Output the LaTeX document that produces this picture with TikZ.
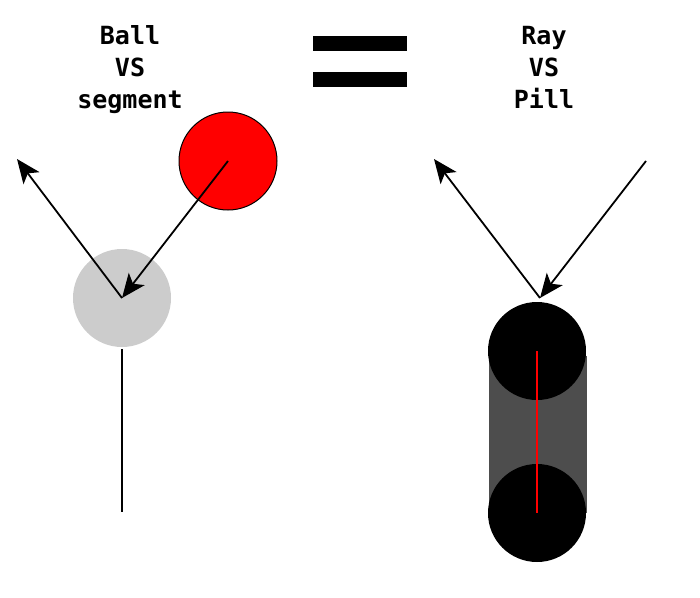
\documentclass[tikz,border=0pt]{standalone}
\usepackage{fontspec}
\setmonofont{DejaVu Sans Mono}
\usetikzlibrary{arrows.meta}
\definecolor{ballgray}{HTML}{CCCCCC}
\definecolor{pillgray}{HTML}{4D4D4D}

\begin{document}
\begin{tikzpicture}[x=1pt, y=-1pt,
  title/.style = {align=center, inner sep=0pt, font=\ttfamily\bfseries\fontsize{25}{32}\selectfont},
  ball/.style = {shape=circle, minimum size=98pt, inner sep=0pt},
  ray/.style = {line width=1.8pt, -{Stealth[length=24pt, width=20pt, inset=6pt]}}]
  \useasboundingbox (0,0) rectangle (700,597);
  \node[title] (balltitle) at (130,70) {Ball\\VS\\segment};
  \node[title] (raytitle) at (544,67) {Ray\\VS\\Pill};
  \fill (313,36) rectangle (407,51);
  \fill (313,72) rectangle (407,87);
  \node[ball, fill=ballgray] (hit) at (122,298) {};
  \node[ball, fill=red, draw=black, line width=1pt] (moving) at (228,161) {};
  \coordinate (bounce) at (17,159);
  \coordinate (segtop) at (122,349);
  \coordinate (segbot) at (122,512);
  \draw[line width=1.8pt] (segtop) -- (segbot);
  \draw[ray] (moving.center) -- (hit.center);
  \draw[ray] (hit.center) -- (bounce);
  \node[shape=rectangle, fill=pillgray, minimum width=98pt, minimum height=157pt, inner sep=0pt] (pillbody) at (538,434) {};
  \node[ball, fill=black] (captop) at (537,351) {};
  \node[ball, fill=black] (capbot) at (537,513) {};
  \draw[red, line width=1.8pt] (captop.center) -- (capbot.center);
  \coordinate (raystart) at (646,161);
  \coordinate (rayhit) at (540,298);
  \coordinate (rayout) at (434,159);
  \draw[ray] (raystart) -- (rayhit);
  \draw[ray] (rayhit) -- (rayout);
\end{tikzpicture}
\end{document}
